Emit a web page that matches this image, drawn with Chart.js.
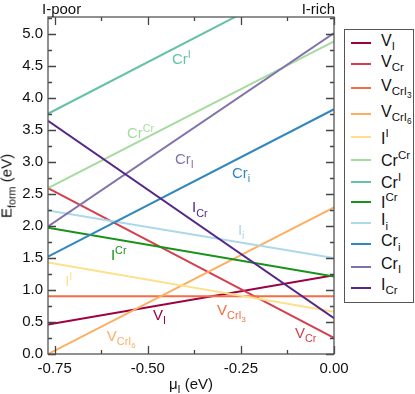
<!DOCTYPE html>
<html>
<head>
<meta charset="utf-8">
<script src="https://cdn.jsdelivr.net/npm/chart.js@4.4.0/dist/chart.umd.min.js"></script>
<style>
  html, body { margin: 0; padding: 0; background: #fff; }
  #wrap { position: relative; width: 415px; height: 394px; font-family: "Liberation Sans", Arial, sans-serif; color: #111; }
  #chart { position: absolute; left: 0; top: 0; }
  .t { position: absolute; white-space: nowrap; font-size: 15px; line-height: 15px; }
  .sb { position: relative; top: 0.38em; font-size: 0.72em; }
  .sp { position: relative; top: -0.6em; font-size: 0.72em; }
  #legend { position: absolute; left: 344px; top: 29px; width: 68px; height: 272px; border: 1px solid #555; background: #fff; }
  .swatch { position: absolute; height: 2px; width: 20px; }
</style>
</head>
<body>
<div id="wrap">
  <canvas id="chart" width="415" height="394"></canvas>
</div>
<script>
// chemical potential range (eV) and formation energies at both ends
const muI = [-0.768, 0.0];
const vI = [0.46, 1.23];
const vCr = [2.59, 0.25];
const vCrI3 = [0.90, 0.90];
const vCrI6 = [0.00, 2.29];
const iSupI = [1.43, 0.66];
const crSupCr = [2.59, 4.88];
const crSupI = [3.75, 6.06];
const iSupCr = [1.97, 1.21];
const iSubi = [2.24, 1.50];
const crSubi = [1.52, 3.82];
const crSubI = [1.99, 5.01];
const iSubCr = [3.64, 0.56];

const xTicks = [-0.75, -0.5, -0.25, 0.0];
const yTicks = [0, 0.5, 1, 1.5, 2, 2.5, 3, 3.5, 4, 4.5, 5];

const sb = t => '<span class="sb">' + t + '</span>';
const sp = t => '<span class="sp">' + t + '</span>';

const names = [
  'V' + sb('I'), 'V' + sb('Cr'), 'V' + sb('CrI' + sb('3')), 'V' + sb('CrI' + sb('6')),
  'I' + sp('I'), 'Cr' + sp('Cr'), 'Cr' + sp('I'), 'I' + sp('Cr'),
  'I' + sb('i'), 'Cr' + sb('i'), 'Cr' + sb('I'), 'I' + sb('Cr')
];
const series = [vI, vCr, vCrI3, vCrI6, iSupI, crSupCr, crSupI, iSupCr, iSubi, crSubi, crSubI, iSubCr];
const colors = ['#9e0142', '#d53e4f', '#f46d43', '#fdae61', '#fee08b', '#a6dba0',
                '#66c2a5', '#17921a', '#abd9e9', '#3288bd', '#8073ac', '#542788'];

// in-plot label anchors (mu, E) = left edge / cap top of the text
const labelSpots = [
  [-0.486, 0.70], [-0.105, 0.42], [-0.314, 0.77], [-0.610, 0.375],
  [-0.722, 1.22], [-0.556, 3.53], [-0.435, 4.69], [-0.599, 1.625],
  [-0.258, 2.02], [-0.274, 2.92], [-0.427, 3.125], [-0.381, 2.375]
];
// legend row centres (px)
const legendRows = [43.3, 64.3, 88.3, 114.3, 137.3, 160, 181.5, 202, 223, 244, 266.7, 287.7];
// wanted plot box (px)
const box = { left: 48, top: 17, right: 334, bottom: 354 };

const isMajor = (v, step) => Math.abs(v / step - Math.round(v / step)) < 1e-6;

// frame plus inward ticks on all four sides
const frameTicks = {
  id: 'frameTicks',
  afterDatasetsDraw(chart) {
    const { ctx, chartArea: a, scales: { x, y } } = chart;
    ctx.save();
    ctx.strokeStyle = '#444';
    ctx.lineWidth = 1.3;
    ctx.beginPath();
    x.ticks.forEach(t => {
      const px = Math.round(x.getPixelForValue(t.value)) + 0.5;
      const len = isMajor(t.value, 0.25) ? 8 : 4;
      ctx.moveTo(px, a.bottom); ctx.lineTo(px, a.bottom - len);
      ctx.moveTo(px, a.top); ctx.lineTo(px, a.top + len);
    });
    y.ticks.forEach(t => {
      const py = Math.round(y.getPixelForValue(t.value)) + 0.5;
      const len = isMajor(t.value, 0.5) ? 8 : 4;
      ctx.moveTo(a.left, py); ctx.lineTo(a.left + len, py);
      ctx.moveTo(a.right, py); ctx.lineTo(a.right - len, py);
    });
    ctx.stroke();
    ctx.strokeStyle = '#555';
    ctx.strokeRect(a.left, a.top, a.right - a.left, a.bottom - a.top);
    ctx.restore();
  }
};

const datasets = series.map((s, i) => ({
  label: names[i],
  data: muI.map((m, k) => ({ x: m, y: s[k] })),
  borderColor: colors[i],
  borderWidth: 2,
  pointRadius: 0,
  tension: 0,
  order: -i
}));

const tickFont = { family: '"Liberation Sans", Arial, sans-serif', size: 15 };

const chart = new Chart(document.getElementById('chart').getContext('2d'), {
  type: 'line',
  data: { datasets },
  options: {
    responsive: false,
    animation: false,
    devicePixelRatio: 1,
    layout: { padding: { left: 10, top: 17, right: 81, bottom: 10 } },
    plugins: { legend: { display: false }, tooltip: { enabled: false } },
    scales: {
      x: {
        type: 'linear', min: muI[0], max: muI[1],
        grid: { display: false, drawTicks: false }, border: { display: false },
        ticks: {
          stepSize: 0.125, includeBounds: false, autoSkip: false, maxRotation: 0,
          padding: 6, color: '#111', font: tickFont,
          callback: v => xTicks.some(t => Math.abs(t - v) < 1e-6) ? v.toFixed(2) : ''
        }
      },
      y: {
        type: 'linear', min: 0, max: 5.26,
        grid: { display: false, drawTicks: false }, border: { display: false },
        ticks: {
          stepSize: 0.25, includeBounds: false, autoSkip: false,
          padding: 5, color: '#111', font: tickFont,
          callback: v => yTicks.some(t => Math.abs(t - v) < 1e-6) ? v.toFixed(1) : ''
        }
      }
    }
  },
  plugins: [frameTicks]
});

// nudge the padding until the plot box sits where the reference has it
for (let k = 0; k < 3; k++) {
  const a = chart.chartArea, p = chart.config.options.layout.padding;
  p.left += box.left - a.left;
  p.top += box.top - a.top;
  p.right += a.right - box.right;
  p.bottom += a.bottom - box.bottom;
  chart.update();
}

// overlays with rich text
const wrap = document.getElementById('wrap');
function addText(html, left, top, extra) {
  const el = document.createElement('div');
  el.className = 't';
  el.innerHTML = html;
  el.style.left = left + 'px';
  el.style.top = top + 'px';
  if (extra) Object.assign(el.style, extra);
  wrap.appendChild(el);
  return el;
}
const xs = chart.scales.x, ys = chart.scales.y, area = chart.chartArea;

labelSpots.forEach((p, i) => {
  addText(names[i], xs.getPixelForValue(p[0]), ys.getPixelForValue(p[1]) - 2.4, { color: colors[i] });
});

addText('I-poor', 42, 0.6);
addText('I-rich', 335, 0.6, { transform: 'translateX(-100%)' });
addText('\u03bc' + sb('I') + ' (eV)', (area.left + area.right) / 2, 375.6, { transform: 'translateX(-50%)' });
addText('E' + sb('form') + ' (eV)', 7, (area.top + area.bottom) / 2,
  { transform: 'translate(-50%,-50%) rotate(-90deg)' });

const legend = document.createElement('div');
legend.id = 'legend';
wrap.appendChild(legend);
legendRows.forEach((ry, i) => {
  const sw = document.createElement('div');
  sw.className = 'swatch';
  sw.style.left = '351px';
  sw.style.top = (ry - 1) + 'px';
  sw.style.background = colors[i];
  wrap.appendChild(sw);
  const hasSup = names[i].indexOf('class="sp"') >= 0;
  const base = ry + (hasSup ? 7 : 3);
  addText(names[i], 381, base - 12.7 - 1, { fontSize: '16px', lineHeight: '16px' });
});
</script>
</body>
</html>
